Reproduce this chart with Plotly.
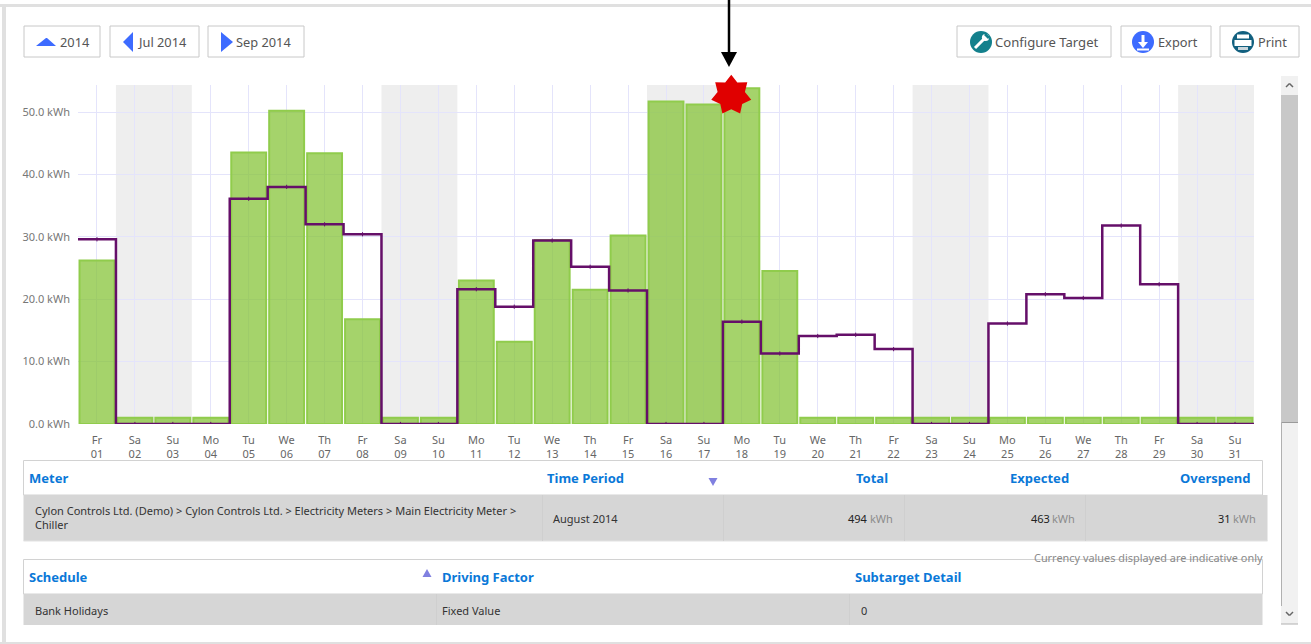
import math
import plotly.graph_objects as go

W, H = 1311, 644

days = list(range(1, 32))
weekdays = ["Fr","Sa","Su","Mo","Tu","We","Th","Fr","Sa","Su","Mo","Tu","We","Th","Fr","Sa","Su","Mo","Tu","We","Th","Fr","Sa","Su","Mo","Tu","We","Th","Fr","Sa","Su"]
tick_labels = [f"{w}<br>{d:02d}" for w, d in zip(weekdays, days)]
actual = [26.2,1,1,1,43.5,50.2,43.4,16.8,1,1,23.0,13.2,29.5,21.5,30.2,51.7,51.2,53.8,24.5,1,1,1,1,1,1,1,1,1,1,1,1]
expected = [29.6,0,0,0,36.1,38.0,32.0,30.4,0,0,21.6,18.8,29.4,25.2,21.4,0,0,16.4,11.3,14.1,14.3,12.0,0,0,16.1,20.8,20.2,31.8,22.4,0,0]
weekend_spans = [(2,3),(9,10),(16,17),(23,24),(30,31)]
y_ticks = [0,10,20,30,40,50]
y_tick_labels = ["0.0 kWh","10.0 kWh","20.0 kWh","30.0 kWh","40.0 kWh","50.0 kWh"]
star_day, star_value = 17.72, 52.7

PL, PR, PT, PB = 78, 1254, 85, 424
Y_SCALE = 6.24
Y_MAX = (PB - PT) / Y_SCALE
X_SCALE = (PR - PL) / 31


def px(x):
    return x / W


def py(y):
    return 1 - y / H


shapes, ann = [], []


def rect(x0, y0, x1, y1, fill="rgba(0,0,0,0)", line=None, lw=1):
    shapes.append(dict(type="rect", xref="paper", yref="paper", x0=px(x0), x1=px(x1), y0=py(y0), y1=py(y1),
                       fillcolor=fill, line=dict(color=line or "rgba(0,0,0,0)", width=lw if line else 0), layer="above"))


def hline(x0, y0, x1, y1, color, lw=1):
    shapes.append(dict(type="line", xref="paper", yref="paper", x0=px(x0), x1=px(x1), y0=py(y0), y1=py(y1),
                       line=dict(color=color, width=lw), layer="above"))


def poly(pts, fill):
    path = "M" + " L".join(f"{px(a):.5f},{py(b):.5f}" for a, b in pts) + " Z"
    shapes.append(dict(type="path", xref="paper", yref="paper", path=path, fillcolor=fill, line=dict(width=0), layer="above"))


def circle(cx, cy, r, fill):
    shapes.append(dict(type="circle", xref="paper", yref="paper", x0=px(cx-r), x1=px(cx+r), y0=py(cy+r), y1=py(cy-r),
                       fillcolor=fill, line=dict(width=0), layer="above"))


def text(x, y, s, size=12, color="#555555", anchor="left", bold=False, font="Noto Sans"):
    ann.append(dict(xref="paper", yref="paper", x=px(x), y=py(y), text=f"<b>{s}</b>" if bold else s, showarrow=False,
                    xanchor=anchor, yanchor="middle", borderpad=0, borderwidth=0,
                    font=dict(family=font, size=size, color=color)))


# weekend bands, beneath the gridlines
for a, b in weekend_spans:
    shapes.append(dict(type="rect", xref="x", yref="paper", x0=a-0.5, x1=b+0.5, y0=py(PB), y1=py(PT),
                       fillcolor="#eeeeee", line=dict(width=0), layer="below"))

# page frame
rect(0, 4, W, 7, "#e0e0e0")
rect(2, 4, 6, 644, "#e0e0e0")
rect(0, 642, W, 644, "#e0e0e0")

# scrollbar
rect(1281, 76, 1298, 624, "#f1f1f1")
rect(1281, 95, 1298, 422, "#c8c8c8")
hline(1281, 422.5, 1298, 422.5, "#9a9a9a")
hline(1281.5, 422, 1281.5, 606, "#b0b0b0")
hline(1281, 624, 1298, 624, "#b0b0b0")
hline(1286, 87, 1289.5, 83.5, "#666666", 1.5)
hline(1289.5, 83.5, 1293, 87, "#666666", 1.5)
hline(1286, 612, 1289.5, 615.5, "#666666", 1.5)
hline(1289.5, 615.5, 1293, 612, "#666666", 1.5)

# buttons
BLUE = "#3d6bff"
for x0, x1 in [(24,100),(110,199),(208,304),(957,1111),(1121,1211),(1220,1299)]:
    rect(x0, 26, x1, 57, "#ffffff", "#c8c8c8", 1)
poly([(36,46),(46,38),(47,38),(56,46)], BLUE)
poly([(123,42),(133,32),(133,52)], BLUE)
poly([(221,32),(221,52),(233,42)], BLUE)
BTN = 12.8
text(60, 42, "2014", BTN)
text(138, 42, "Jul 2014", BTN)
text(236, 42, "Sep 2014", BTN)
text(995, 42, "Configure Target", 13.1)
text(1158, 42, "Export", BTN)
text(1258, 42, "Print", BTN)
# icon discs
circle(981, 42, 11, "#13808c")
hline(975, 48, 984, 39, "#ffffff", 3)
circle(985.5, 37.5, 3.6, "#ffffff")
poly([(986,33),(990,37),(988,39),(984,35)], "#13808c")
circle(1143, 42, 11, "#3d6bff")
hline(1143, 35, 1143, 44, "#ffffff", 3)
poly([(1138,42),(1148,42),(1143,48)], "#ffffff")
hline(1137, 49.5, 1149, 49.5, "#ffffff", 2)
circle(1243, 42, 11, "#12607f")
rect(1237, 34.5, 1249, 38.5, "#ffffff")
rect(1234.5, 40, 1251.5, 46, "#ffffff")
rect(1238, 47, 1248, 50, "#c9d6dc")

# arrow above the peak
hline(729, 0, 729, 55, "#000000", 2.5)
poly([(721,52),(737,52),(729,67)], "#000000")

# tables
HEAD = "#0a78d8"
GRID = "#cfcfcf"
ROW = "#d6d6d6"
rect(23.5, 460.5, 1262.5, 495, "#ffffff", "#d2d2d2", 1)
rect(23.5, 495, 1267.5, 541, ROW)
hline(23.5, 541, 1267.5, 541, "#e2e2e2", 1)
for x in (542.5, 723.5, 904.5, 1085.5):
    hline(x, 495, x, 541, GRID)
meter_heads = ["Meter", "Time Period"]
text(29, 478, meter_heads[0], 13, HEAD, bold=True)
text(547, 478, meter_heads[1], 13, HEAD, bold=True)
for x, s in zip((888, 1069, 1250), ("Total", "Expected", "Overspend")):
    text(x, 478, s, 13, HEAD, "right", bold=True)
poly([(708.5,478),(717.5,478),(713,486)], "#8080e0")
text(35, 510.5, "Cylon Controls Ltd. (Demo) &gt; Cylon Controls Ltd. &gt; Electricity Meters &gt; Main Electricity Meter &gt;", 11, "#333333")
text(35, 524.5, "Chiller", 11, "#333333")
text(553, 518, "August 2014", 11, "#333333")
for xv, xu, v in zip((868, 1049.5, 1231), (870, 1051.5, 1233), ("494", "463", "31")):
    text(xv, 518, v, 11, "#222222", "right")
    text(xu, 518, "kWh", 11, "#8c8c8c")
rect(23.5, 559.5, 1262.5, 594, "#ffffff", "#d2d2d2", 1)
rect(23.5, 594, 1262.5, 625, ROW)
hline(436.5, 594, 436.5, 625, GRID)
hline(849.5, 594, 849.5, 625, GRID)
text(29, 577, "Schedule", 13, HEAD, bold=True)
text(442, 577, "Driving Factor", 13, HEAD, bold=True)
text(855, 577, "Subtarget Detail", 13, HEAD, bold=True)
poly([(422.5,577),(431.5,577),(427,569)], "#8080e0")
text(35, 610, "Bank Holidays", 11, "#333333")
text(442, 610, "Fixed Value", 11, "#333333")
text(861, 610, "0", 11, "#333333")
text(1263, 557.5, "Currency values displayed are indicative only", 10.9, "#8a8a8a", "right")

# seven-pointed flag on the peak day, placed from its data position (paper coords so it may overflow the plot)
star_cx = PL + (star_day - 0.5) * X_SCALE
star_cy = PB - star_value * Y_SCALE
R_OUT, R_IN = 20.5, 14
star = []
for i in range(14):
    r = R_OUT if i % 2 == 0 else R_IN
    a = math.pi * i / 7
    star.append((star_cx + r * math.sin(a), star_cy - r * math.cos(a)))
poly(star, "#e00000")

fig = go.Figure()
fig.add_bar(x=days, y=actual, width=0.92, marker=dict(color="rgba(133,196,55,0.74)", line=dict(color="#90cc4c", width=2)), showlegend=False)
fig.add_scatter(x=[d - 0.5 for d in days] + [days[-1] + 0.5], y=expected + expected[-1:], mode="lines", line=dict(shape="hv", color="#650f69", width=2.5),
                showlegend=False, cliponaxis=False)
fig.add_scatter(x=days, y=expected, mode="markers", marker=dict(symbol="line-ns", size=3, line=dict(color="#650f69", width=1)), showlegend=False)

fig.update_layout(
    width=W, height=H, margin=dict(l=0, r=0, t=0, b=0, autoexpand=False), paper_bgcolor="#ffffff", plot_bgcolor="rgba(0,0,0,0)",
    showlegend=False, bargap=0.08, shapes=shapes, annotations=ann,
    xaxis=dict(domain=[px(PL), px(PR)], range=[0.5, 31.5], tickmode="array", tickvals=days, ticktext=tick_labels,
               showgrid=True, gridcolor="#e4e4fb", gridwidth=1, zeroline=False, showline=False, ticks="", tickangle=0,
               tickfont=dict(family="Noto Sans", size=11, color="#666666"), ticklabelstandoff=8),
    yaxis=dict(domain=[py(PB), py(PT)], range=[0, Y_MAX], tickmode="array", tickvals=y_ticks, ticktext=y_tick_labels,
               showgrid=True, gridcolor="#e4e4fb", gridwidth=1, zeroline=False, showline=False, ticks="",
               tickfont=dict(family="Noto Sans", size=11, color="#777777"), ticklabelstandoff=7),
)

fig.write_html("out.html", config={"displayModeBar": False},
               post_script="document.body.style.margin='0';document.body.style.overflow='hidden';")
